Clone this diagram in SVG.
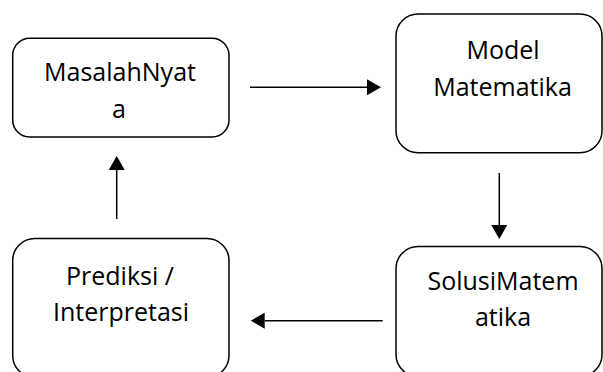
<svg xmlns="http://www.w3.org/2000/svg" width="603" height="372" viewBox="0 0 603 372">
  <style>
    .box { fill: #ffffff; stroke: #000000; stroke-width: 1.5; }
    .lbl { font-family: "Open Sans", "Noto Sans", sans-serif; font-size: 25px; fill: #000000; text-anchor: middle; }
    .conn { stroke: #000000; stroke-width: 1.5; fill: none; marker-end: url(#head); }
  </style>
  <defs>
    <marker id="head" viewBox="0 0 14 16" refX="0" refY="8" markerWidth="14" markerHeight="16" markerUnits="userSpaceOnUse" orient="auto">
      <path d="M0,0 L14,8 L0,16 z" fill="#000000"/>
    </marker>
  </defs>
  <rect width="603" height="372" fill="#ffffff"/>

  <g id="node-masalah">
    <rect class="box" x="12.7" y="38.3" width="216.3" height="98.7" rx="17" ry="17"/>
    <text class="lbl" x="120" y="81">MasalahNyat</text>
    <text class="lbl" x="119" y="117.5">a</text>
  </g>

  <g id="node-model">
    <rect class="box" x="396" y="14" width="206" height="138.7" rx="22" ry="22"/>
    <text class="lbl" x="503" y="59.3">Model</text>
    <text class="lbl" x="502.5" y="95.5">Matematika</text>
  </g>

  <g id="node-solusi">
    <rect class="box" x="396" y="246.5" width="206" height="130" rx="22" ry="22"/>
    <text class="lbl" x="503" y="290">SolusiMatem</text>
    <text class="lbl" x="503" y="326">atika</text>
  </g>

  <g id="node-prediksi">
    <rect class="box" x="12.7" y="238.5" width="216.3" height="139" rx="22" ry="22"/>
    <text class="lbl" x="120" y="285">Prediksi /</text>
    <text class="lbl" x="121" y="320.5">Interpretasi</text>
  </g>

  <g id="connectors">
    <line class="conn" x1="250" y1="87.3" x2="367" y2="87.3"/>
    <line class="conn" x1="499.3" y1="173" x2="499.3" y2="225"/>
    <line class="conn" x1="382.7" y1="320.7" x2="264.7" y2="320.7"/>
    <line class="conn" x1="116.7" y1="219" x2="116.7" y2="170"/>
  </g>
</svg>
